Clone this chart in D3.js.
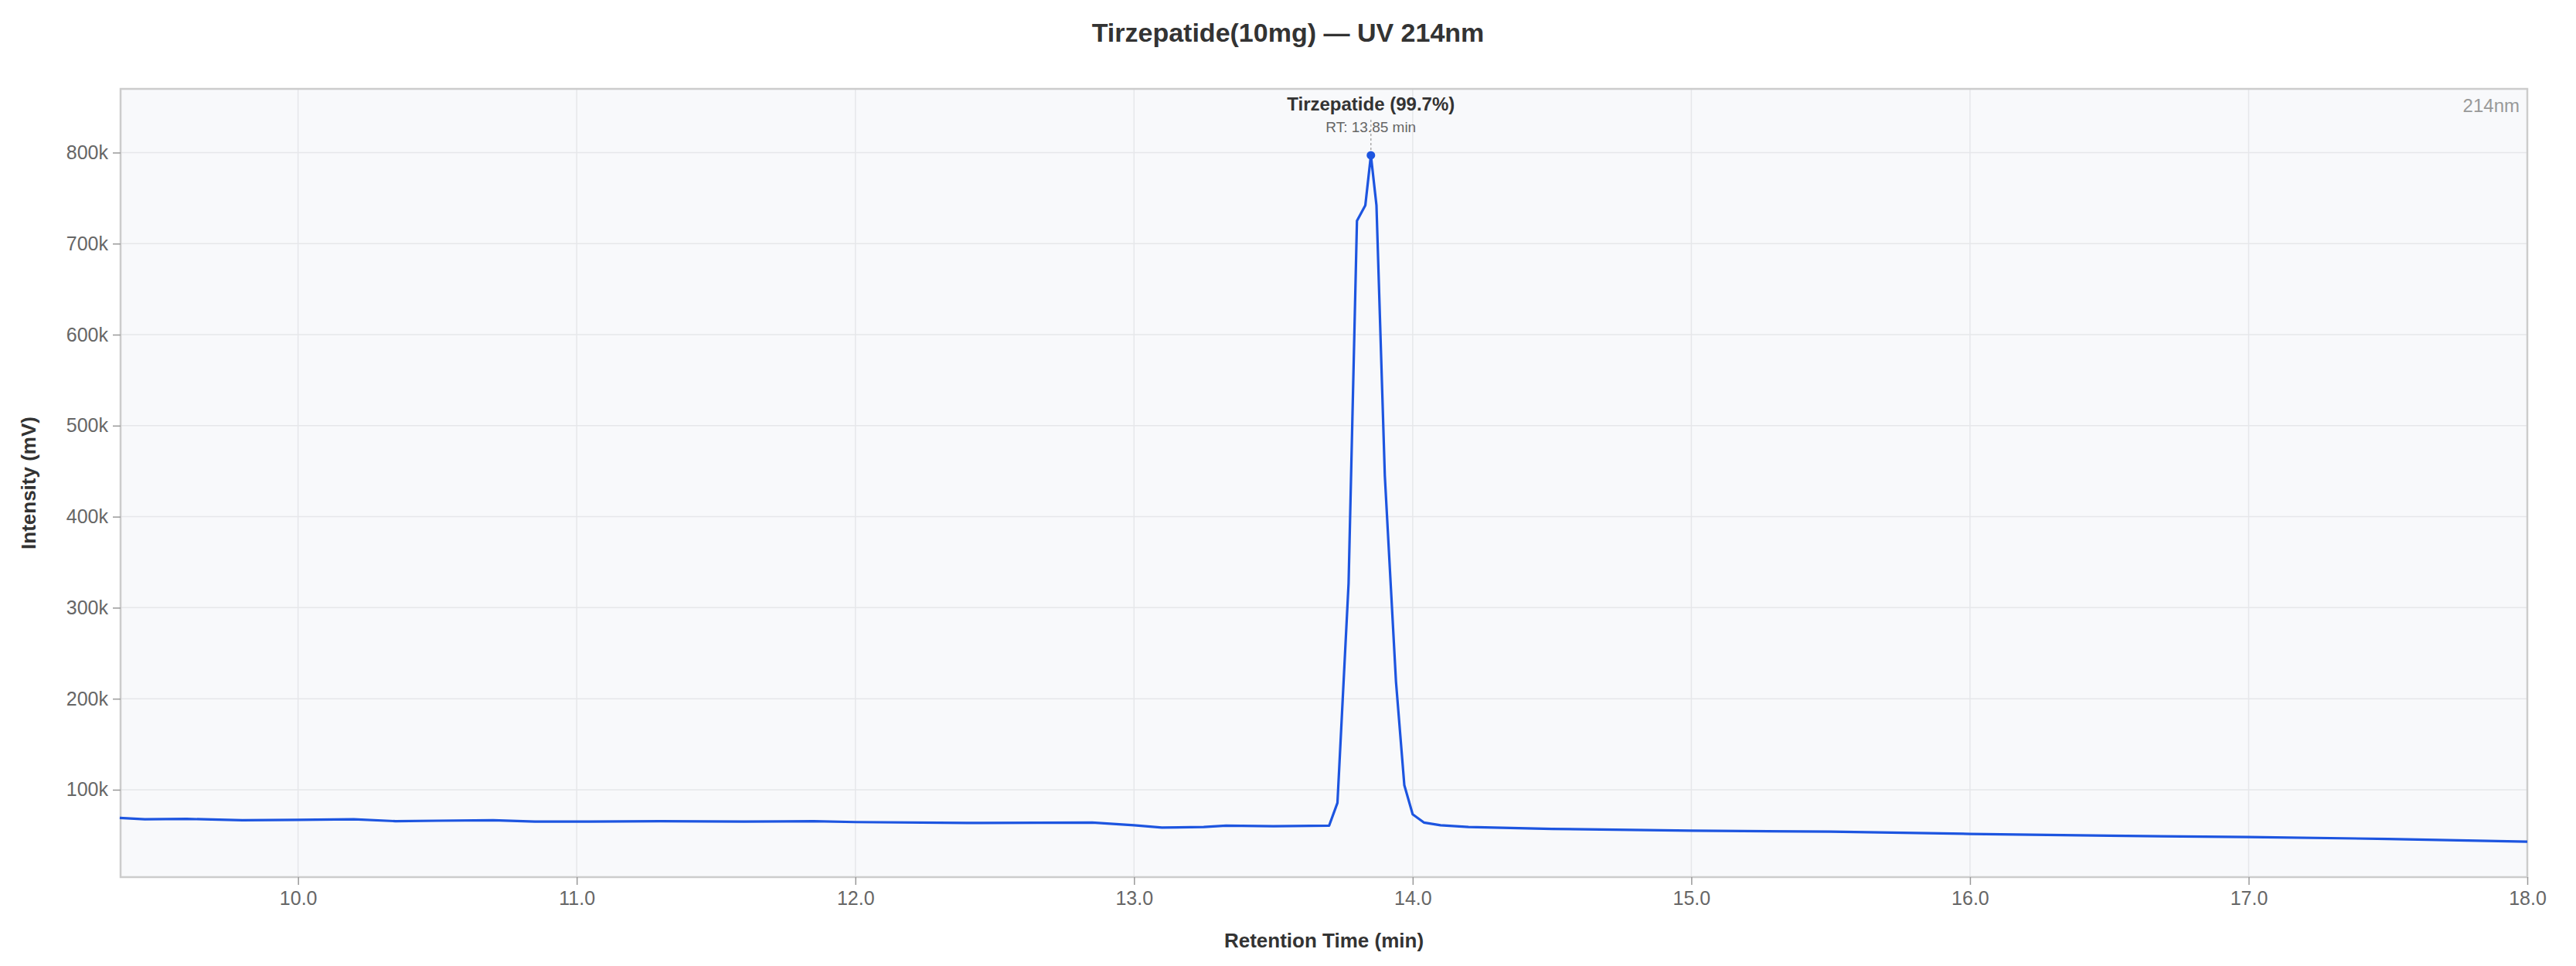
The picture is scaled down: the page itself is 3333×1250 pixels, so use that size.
<!DOCTYPE html>
<html>
<head>
<meta charset="utf-8">
<script src="https://cdn.jsdelivr.net/npm/d3@7"></script>
<style>
  body { margin: 0; background: #fff; }
  text { font-family: "Liberation Sans", Arial, sans-serif; }
</style>
</head>
<body>
<svg id="chart" width="3333" height="1250"></svg>
<script>
// retention time (min) and intensity (mV)
const times = [9.36, 9.45, 9.6, 9.8, 10.0, 10.2, 10.35, 10.5, 10.7, 10.85, 11.0, 11.3, 11.6, 11.85, 12.0, 12.4, 12.85,
  13.0, 13.1, 13.25, 13.33, 13.5, 13.7, 13.73, 13.77, 13.80, 13.83, 13.85, 13.87, 13.90, 13.94, 13.97, 14.00, 14.04,
  14.1, 14.2, 14.5, 15.0, 15.5, 16.0, 16.5, 17.0, 17.5, 18.0];
const intensity = [69000, 67500, 68000, 66500, 67000, 67500, 65500, 66000, 66500, 65000, 65000, 65500, 65000, 65500, 64500, 63500, 64000,
  61000, 58500, 59000, 60500, 60000, 60500, 85600, 327000, 725000, 742000, 797000, 742000, 445000, 219000, 105000, 73000, 64000,
  61000, 59000, 57000, 55000, 54000, 51500, 49500, 48000, 46000, 43000];
const xTicks = [10, 11, 12, 13, 14, 15, 16, 17, 18];
const yTicks = [100000, 200000, 300000, 400000, 500000, 600000, 700000, 800000];
const peakName = "Tirzepatide (99.7%)";
const peakRT = 13.85;
const peakVal = 797000;

const data = times.map((t, i) => ({ t, v: intensity[i] }));

const margin = { left: 156, right: 63, top: 115, bottom: 115 };
const W = 3333, H = 1250;
const wViz = W - margin.left - margin.right;
const hViz = H - margin.top - margin.bottom;

const svg = d3.select("#chart");
const g = svg.append("g").attr("transform", `translate(${margin.left},${margin.top})`);

const xScale = d3.scaleLinear().domain([9.363, 18.0]).range([0, wViz]);
const yScale = d3.scaleLinear().domain([4000, 870000]).range([hViz, 0]);

g.append("rect")
  .attr("width", wViz).attr("height", hViz)
  .attr("fill", "#f8f9fb");

// grid
g.append("g").selectAll("line").data(xTicks).enter().append("line")
  .attr("x1", d => xScale(d)).attr("x2", d => xScale(d))
  .attr("y1", 0).attr("y2", hViz)
  .attr("stroke", "#e6e7ea").attr("stroke-width", 1.5);
g.append("g").selectAll("line").data(yTicks).enter().append("line")
  .attr("x1", 0).attr("x2", wViz)
  .attr("y1", d => yScale(d)).attr("y2", d => yScale(d))
  .attr("stroke", "#e6e7ea").attr("stroke-width", 1.5);

g.append("rect")
  .attr("width", wViz).attr("height", hViz)
  .attr("fill", "none").attr("stroke", "#cccccc").attr("stroke-width", 2.5);

// axes
const xAxis = g.append("g")
  .attr("transform", `translate(0,${hViz})`)
  .call(d3.axisBottom(xScale).tickValues(xTicks).tickFormat(d3.format(".1f")).tickSize(10).tickPadding(8));
const yAxis = g.append("g")
  .call(d3.axisLeft(yScale).tickValues(yTicks).tickFormat(d => d / 1000 + "k").tickSize(10).tickPadding(6));
[xAxis, yAxis].forEach(a => {
  a.select(".domain").remove();
  a.selectAll(".tick line").attr("stroke", "#999").attr("stroke-width", 1.5);
  a.selectAll(".tick text").attr("fill", "#666").style("font-size", "25px");
});

// trace
g.append("path")
  .datum(data)
  .attr("fill", "none")
  .attr("stroke", "#1d55e0")
  .attr("stroke-width", 3.2)
  .attr("stroke-linejoin", "round")
  .attr("d", d3.line().x(d => xScale(d.t)).y(d => yScale(d.v)));

// peak annotation
const px = xScale(peakRT), py = yScale(peakVal);
g.append("line")
  .attr("x1", px).attr("x2", px).attr("y1", 40).attr("y2", py)
  .attr("stroke", "#aaa").attr("stroke-width", 1.5).attr("stroke-dasharray", "3,3");
g.append("circle").attr("cx", px).attr("cy", py).attr("r", 5.5).attr("fill", "#1d55e0");
g.append("text").attr("x", px).attr("y", 28).attr("text-anchor", "middle")
  .attr("font-weight", "bold").attr("fill", "#333").style("font-size", "24px").text(peakName);
g.append("text").attr("x", px).attr("y", 56).attr("text-anchor", "middle")
  .attr("fill", "#666").style("font-size", "19px").text(`RT: ${peakRT} min`);

g.append("text").attr("x", wViz - 10).attr("y", 30).attr("text-anchor", "end")
  .attr("fill", "#999").style("font-size", "24px").text("214nm");

// titles
svg.append("text").attr("x", W / 2).attr("y", 54).attr("text-anchor", "middle")
  .attr("font-weight", "bold").attr("fill", "#333").style("font-size", "34px")
  .text("Tirzepatide(10mg) — UV 214nm");
svg.append("text").attr("x", margin.left + wViz / 2).attr("y", 1226).attr("text-anchor", "middle")
  .attr("font-weight", "bold").attr("fill", "#333").style("font-size", "26px")
  .text("Retention Time (min)");
svg.append("text")
  .attr("transform", `translate(46,${margin.top + hViz / 2}) rotate(-90)`)
  .attr("text-anchor", "middle")
  .attr("font-weight", "bold").attr("fill", "#333").style("font-size", "26px")
  .text("Intensity (mV)");
</script>
</body>
</html>
